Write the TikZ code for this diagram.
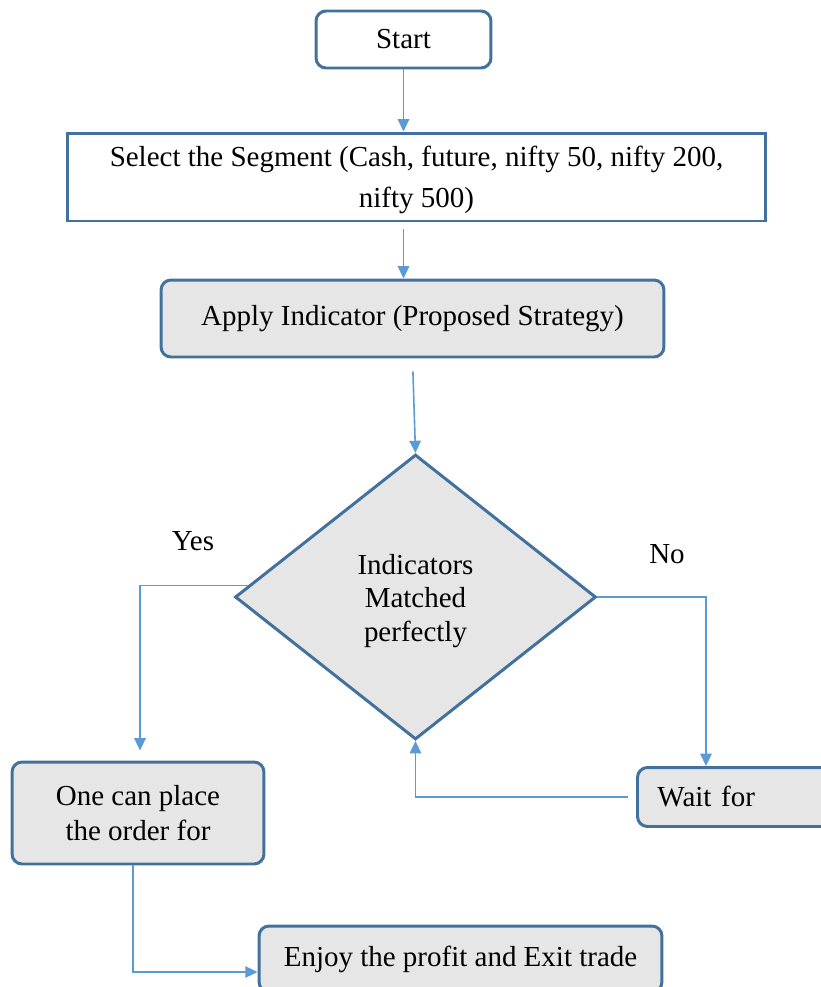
\documentclass[tikz,border=0pt]{standalone}
\usepackage{fontspec}
\setmainfont{Liberation Serif}
\usetikzlibrary{shapes.geometric,arrows.meta,calc}

\definecolor{boxline}{RGB}{65,113,156}
\definecolor{flowline}{RGB}{91,155,213}
\definecolor{boxfill}{RGB}{231,230,230}

\begin{document}
\begin{tikzpicture}[x=0.02cm,y=-0.02cm,
	every node/.style={font=\fontsize{16.5}{20}\selectfont},
	roundbox/.style={draw=boxline,line width=1.7pt,rounded corners=0.2cm,fill=boxfill,align=center},
	flatbox/.style={draw=boxline,line width=1.7pt,fill=white,align=center},
	decision/.style={diamond,draw=boxline,line width=1.7pt,fill=boxfill,align=center,inner sep=0pt},
	flow/.style={draw=flowline,line width=0.9pt,-{Triangle[width=6.5pt,length=7pt]}}]
		\useasboundingbox (0,0) rectangle (821,987);

		\node[roundbox,fill=white,minimum width=3.5cm,minimum height=1.14cm]	(start)		at (403.5,39.5)	{Start};
		\node[flatbox,minimum width=13.98cm,minimum height=1.76cm]				(segment)	at (416.5,177)	{\rule{0pt}{15pt}Select the Segment (Cash, future, nifty 50, nifty 200,\\[3pt] nifty 500)};
		\node[roundbox,minimum width=10.06cm,minimum height=1.54cm]				(apply)		at (412.5,318.5)	{Apply Indicator (Proposed Strategy)};
		\node[decision,minimum width=7.22cm,minimum height=5.7cm,
			font=\fontsize{16.5}{19}\selectfont]								(dec)		at (415.5,597)	{\rule{0pt}{16pt}Indicators\\Matched\\perfectly};
		\node[roundbox,minimum width=5.04cm,minimum height=2.04cm]				(order)		at (138,813)	{One can place\\the order for};
		\node[roundbox,anchor=west,minimum width=4cm,minimum height=1.18cm,
			inner xsep=0.4cm,text width=3.2cm,align=left]						(wait)		at (636,797)	{Wait for};
		\node[roundbox,minimum width=8.06cm,minimum height=1.32cm]				(enjoy)		at (460.5,959)	{Enjoy the profit and Exit trade};

		\node (yes) at (193,541) {Yes};
		\node (no)  at (667,554) {No};

		\draw[flow] (start.south) -- (start.south |- segment.north);
		\draw[flow,shorten <=0.14cm] (segment.south -| start) -- (apply.north -| start);
		\draw[flow,shorten <=0.26cm] (apply.south) -- (dec.north);
		\draw[flow,shorten >=0.2cm] (dec.176) -| ($(order.north)+(2,0)$);
		\draw[flow] (dec.east) -| ($(wait.north west)+(70,0)$);
		\draw[flow,shorten <=0.16cm] (wait.west) -| (dec.south);
		\draw[flow] ($(order.south)+(-5,0)$) |- ($(enjoy.west)+(0,13)$);
	\end{tikzpicture}
\end{document}
